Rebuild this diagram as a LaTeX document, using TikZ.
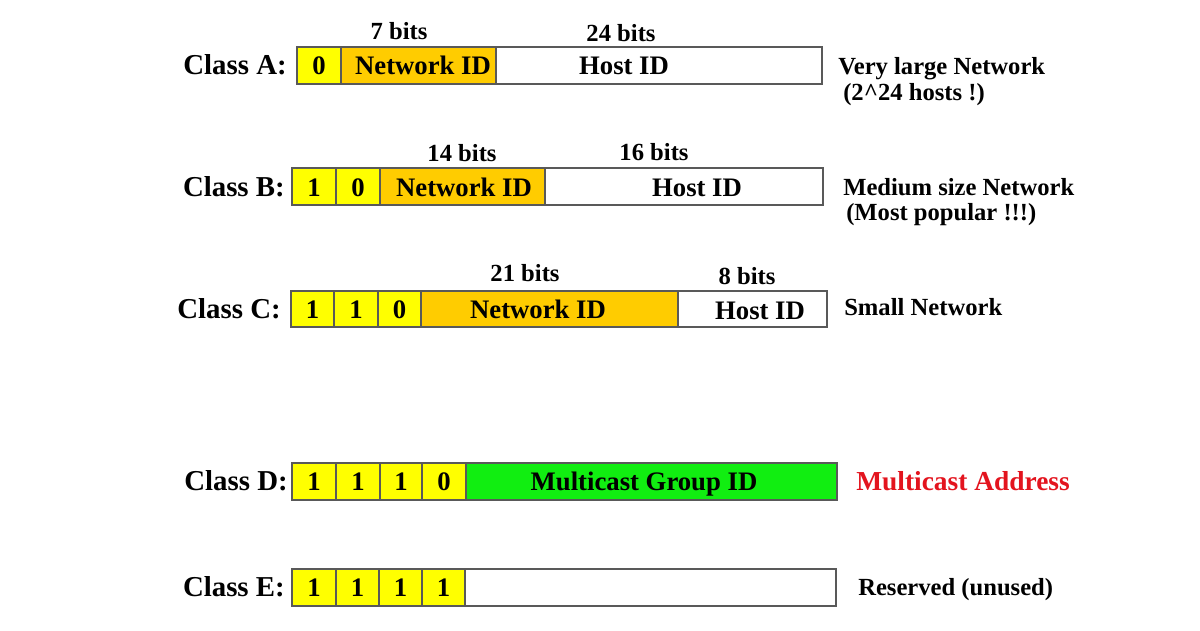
\documentclass[tikz,border=0pt]{standalone}
\usepackage{fontspec}
\setmainfont{Liberation Serif}
\usetikzlibrary{positioning}

\definecolor{bityellow}{HTML}{FFFF00}
\definecolor{netorange}{HTML}{FFCC00}
\definecolor{mcgreen}{HTML}{11EE11}
\definecolor{mcred}{HTML}{E3141E}

\begin{document}
\begin{tikzpicture}[x=0.025cm, y=-0.025cm,
  cellbox/.style={draw=black!65, line width=1pt},
  fixbit/.style={cellbox, fill=bityellow},
  netpart/.style={cellbox, fill=netorange},
  hostpart/.style={cellbox, fill=white},
  mcpart/.style={cellbox, fill=mcgreen},
  clslabel/.style={font=\fontsize{20.5}{24}\selectfont\bfseries, anchor=base east, inner sep=0pt},
  celltxt/.style={font=\fontsize{19}{22}\selectfont\bfseries, anchor=base, inner sep=0pt},
  widthtxt/.style={font=\fontsize{17.5}{20}\selectfont\bfseries, anchor=base, inner sep=0pt},
  notetxt/.style={font=\fontsize{17.5}{20}\selectfont\bfseries, anchor=base west, inner sep=0pt}]
\useasboundingbox (0,0) rectangle (1200,630);
% Class A
\node[clslabel] (clsA) at (287,75) {Class A:};
\draw[fixbit] (297,47) rectangle (341,84);
\node[celltxt] (bitA1) at (319,74.5) {0};
\draw[netpart] (341,47) rectangle (496,84);
\node[celltxt] (netA) at (423,74.5) {Network ID};
\draw[hostpart] (496,47) rectangle (822,84);
\node[celltxt] (hostA) at (624,74.5) {Host ID};
\node[widthtxt] (widA1) at (399,40) {7 bits};
\node[widthtxt] (widA2) at (621,41.5) {24 bits};
\node[notetxt] (noteA1) at (838,75) {Very large Network};
\node[notetxt] (noteA2) at (843,100.5) {(2\^{}24 hosts !)};
% Class B
\node[clslabel] (clsB) at (285,196.5) {Class B:};
\foreach \x/\nx/\b [count=\i] in {292/336/1, 336/380/0} {
  \draw[fixbit] (\x,168) rectangle (\nx,205);
  \node[celltxt] (bitB\i) at ({(\x+\nx)/2},196.5) {\b};
}
\draw[netpart] (380,168) rectangle (545,205);
\node[celltxt] (netB) at (464,196.5) {Network ID};
\draw[hostpart] (545,168) rectangle (823,205);
\node[celltxt] (hostB) at (697,196.5) {Host ID};
\node[widthtxt] (widB1) at (462,161.5) {14 bits};
\node[widthtxt] (widB2) at (654,160.5) {16 bits};
\node[notetxt] (noteB1) at (843,195) {Medium size Network};
\node[notetxt] (noteB2) at (846,220.5) {(Most popular !!!)};
% Class C
\node[clslabel] (clsC) at (281,318) {Class C:};
\foreach \x/\nx/\b [count=\i] in {291/334/1, 334/378/1, 378/421/0} {
  \draw[fixbit] (\x,291) rectangle (\nx,327);
  \node[celltxt] (bitC\i) at ({(\x+\nx)/2},318) {\b};
}
\draw[netpart] (421,291) rectangle (678,327);
\node[celltxt] (netC) at (538,318) {Network ID};
\draw[hostpart] (678,291) rectangle (827,327);
\node[celltxt] (hostC) at (760,319.5) {Host ID};
\node[widthtxt] (widC1) at (525,281.5) {21 bits};
\node[widthtxt] (widC2) at (747,284.5) {8 bits};
\node[notetxt] (noteC1) at (844,315) {Small Network};
% Class D
\node[clslabel] (clsD) at (288,490.5) {Class D:};
\foreach \x/\nx/\b [count=\i] in {292/336/1, 336/380/1, 380/422/1, 422/466/0} {
  \draw[fixbit] (\x,463) rectangle (\nx,500);
  \node[celltxt] (bitD\i) at ({(\x+\nx)/2},490.5) {\b};
}
\draw[mcpart] (466,463) rectangle (837,500);
\node[celltxt] (mcD) at (644,490.5) {Multicast Group ID};
\node[notetxt, text=mcred, font=\fontsize{19.5}{22}\selectfont\bfseries] (noteD1) at (856,490) {Multicast Address};
% Class E
\node[clslabel] (clsE) at (285,596.5) {Class E:};
\foreach \x/\nx/\b [count=\i] in {292/336/1, 336/379/1, 379/422/1, 422/465/1} {
  \draw[fixbit] (\x,569) rectangle (\nx,606);
  \node[celltxt] (bitE\i) at ({(\x+\nx)/2},596.5) {\b};
}
\draw[hostpart] (465,569) rectangle (836,606);
\node[notetxt] (noteE1) at (858,595) {Reserved (unused)};
\end{tikzpicture}
\end{document}
